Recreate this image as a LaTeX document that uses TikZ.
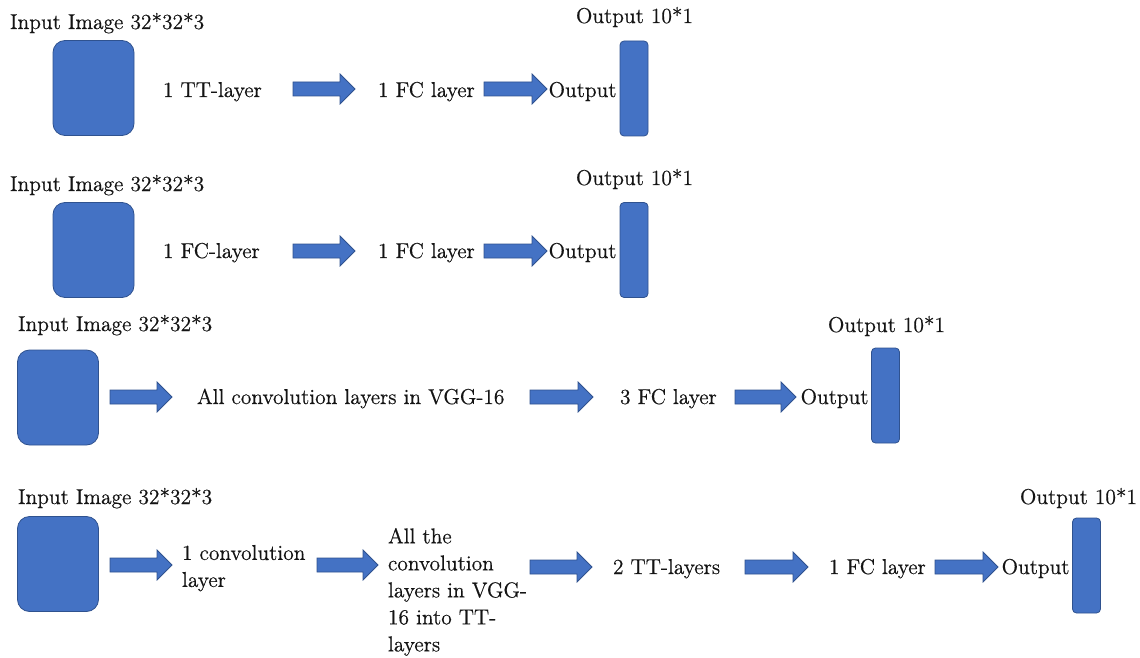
\documentclass[tikz,border=0pt]{standalone}
\usepackage{fontspec}
\newfontfamily\tnr{lmroman12-regular.otf}[FakeBold=0.5]
\usetikzlibrary{calc}
\definecolor{boxfill}{HTML}{4472C4}
\definecolor{boxline}{HTML}{2F528F}
\definecolor{txt}{HTML}{141414}
\tikzset{
 lbl/.style={inner sep=0pt, outer sep=0pt, text=txt, font=\tnr\fontsize{21.5}{27}\selectfont, anchor=base west},
 olbl/.style={lbl, anchor=base east},
 mlbl/.style={lbl, anchor=north west, align=left},
 inbox/.style={fill=boxfill, draw=boxline, line width=0.8pt, rounded corners=12pt, minimum width=81pt, minimum height=95pt, inner sep=0pt},
 outbar/.style={fill=boxfill, draw=boxline, line width=0.8pt, rounded corners=4pt, minimum width=28pt, minimum height=95pt, inner sep=0pt},
 barrowstyle/.style={fill=boxfill, draw=boxline, line width=0.8pt, line join=miter},
}
\newcommand\blockarrow[2]{%
 \draw[barrowstyle] ($(#1)+(0,7)$) -- ($(#2)+(-15,7)$) -- ($(#2)+(-15,15)$) -- (#2) -- ($(#2)+(-15,-15)$) -- ($(#2)+(-15,-7)$) -- ($(#1)+(0,-7)$) -- cycle;}
\begin{document}
\begin{tikzpicture}[x=1pt,y=-1pt]
\useasboundingbox (0,0) rectangle (1140,658);
% ---------- Row 1 ----------
\node[lbl] (r1in) at (10,29) {Input Image 32*32*3};
\node[inbox] (r1box) at (93.5,88) {};
\node[lbl] (r1t1) at (163,97) {1 TT-layer};
\node[lbl] (r1t2) at (378,97) {1 FC layer};
\node[olbl] (r1o) at (616.5,97) {Output};
\node[outbar] (r1bar) at (634,88.5) {};
\node[lbl] (r1out) at (576,23) {Output 10*1};
\coordinate (r1a1s) at (293,89); \coordinate (r1a1e) at (355,89);
\coordinate (r1a2s) at (484,89); \coordinate (r1a2e) at (547,89);
\blockarrow{r1a1s}{r1a1e}
\blockarrow{r1a2s}{r1a2e}
% ---------- Row 2 ----------
\node[lbl] (r2in) at (10,191) {Input Image 32*32*3};
\node[inbox] (r2box) at (93.5,250) {};
\node[lbl] (r2t1) at (163,258) {1 FC-layer};
\node[lbl] (r2t2) at (378,258) {1 FC layer};
\node[olbl] (r2o) at (616.5,258) {Output};
\node[outbar] (r2bar) at (634,250) {};
\node[lbl] (r2out) at (576,185) {Output 10*1};
\coordinate (r2a1s) at (293,251); \coordinate (r2a1e) at (355,251);
\coordinate (r2a2s) at (484,251); \coordinate (r2a2e) at (547,251);
\blockarrow{r2a1s}{r2a1e}
\blockarrow{r2a2s}{r2a2e}
% ---------- Row 3 ----------
\node[lbl] (r3in) at (18,331) {Input Image 32*32*3};
\node[inbox] (r3box) at (58,397.5) {};
\node[lbl] (r3t1) at (197,404) {All convolution layers in VGG-16};
\node[lbl] (r3t2) at (620,404) {3 FC layer};
\node[olbl] (r3o) at (868.5,404) {Output};
\node[outbar] (r3bar) at (885.5,395.5) {};
\node[lbl] (r3out) at (828,332) {Output 10*1};
\coordinate (r3a1s) at (110,397); \coordinate (r3a1e) at (172,397);
\coordinate (r3a2s) at (530,397); \coordinate (r3a2e) at (593,397);
\coordinate (r3a3s) at (735,397); \coordinate (r3a3e) at (796,397);
\blockarrow{r3a1s}{r3a1e}
\blockarrow{r3a2s}{r3a2e}
\blockarrow{r3a3s}{r3a3e}
% ---------- Row 4 ----------
\node[lbl] (r4in) at (18,504) {Input Image 32*32*3};
\node[inbox] (r4box) at (58,564) {};
\node[mlbl] (r4t1) at (182,545) {1 convolution\\layer};
\node[mlbl] (r4t2) at (388,528) {All the\\convolution\\layers in VGG-\\16 into TT-\\layers};
\node[lbl] (r4t3) at (613,574) {2 TT-layers};
\node[lbl] (r4t4) at (829,574) {1 FC layer};
\node[olbl] (r4o) at (1069.5,574) {Output};
\node[outbar] (r4bar) at (1086.5,565.5) {};
\node[lbl] (r4out) at (1020,504) {Output 10*1};
\coordinate (r4a1s) at (110,565); \coordinate (r4a1e) at (172,565);
\coordinate (r4a2s) at (317,565); \coordinate (r4a2e) at (378,565);
\coordinate (r4a3s) at (530,567); \coordinate (r4a3e) at (592,567);
\coordinate (r4a4s) at (745,567); \coordinate (r4a4e) at (808,567);
\coordinate (r4a5s) at (935,567); \coordinate (r4a5e) at (998,567);
\blockarrow{r4a1s}{r4a1e}
\blockarrow{r4a2s}{r4a2e}
\blockarrow{r4a3s}{r4a3e}
\blockarrow{r4a4s}{r4a4e}
\blockarrow{r4a5s}{r4a5e}
\end{tikzpicture}
\end{document}
